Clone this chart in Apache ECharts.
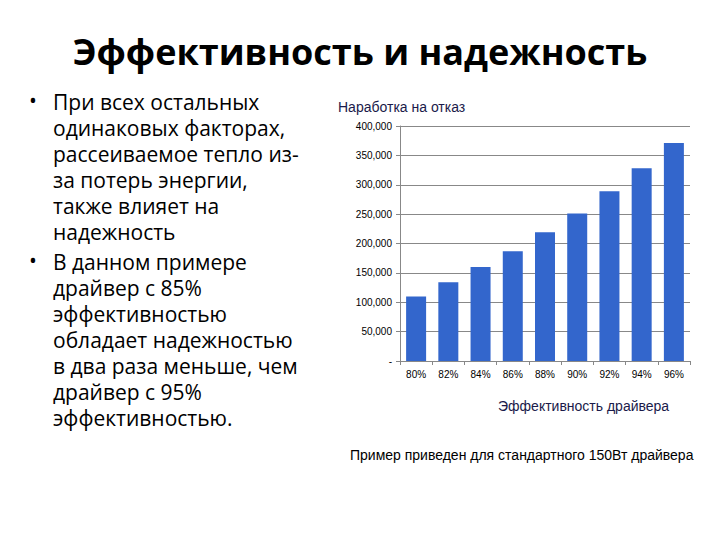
<!DOCTYPE html>
<html>
<head>
    <meta charset="UTF-8">
    <title>Эффективность и надежность</title>
    <script type="text/javascript" src="https://cdn.jsdelivr.net/npm/echarts@6/dist/echarts.min.js"></script>
    <style>
        html, body { margin: 0; padding: 0; background: #fff; }
    </style>
</head>
<body>
    <div id="main" style="width: 720px;height:540px;"></div>
    <script type="text/javascript">
        // данные графика
        var categories = ['80%', '82%', '84%', '86%', '88%', '90%', '92%', '94%', '96%'];
        var mtbf = [110000, 134000, 160000, 187000, 219000, 251000, 289000, 328000, 371000];

        var slideTitle = 'Эффективность и надежность';
        var bullet1 = ['При всех остальных', 'одинаковых факторах,', 'рассеиваемое тепло из-', 'за потерь энергии,', 'также влияет на', 'надежность'];
        var bullet2 = ['В данном примере', 'драйвер с 85%', 'эффективностью', 'обладает надежностью', 'в два раза меньше, чем', 'драйвер с 95%', 'эффективностью.'];

        var myChart = echarts.init(document.getElementById('main'), null, { renderer: 'svg' });

        var textFont = '"Open Sans", "Noto Sans", sans-serif';
        var chartFont = '"Liberation Sans", Arial, sans-serif';

        // строки маркированного списка, каждая отдельным текстом
        function bulletLines(lines, top) {
            var items = [{ type: 'text', left: 29, top: top, style: { text: '•', font: '21px ' + textFont, fill: '#000' } }];
            lines.forEach(function (s, i) {
                items.push({
                    type: 'text', left: 53, top: top + i * 26,
                    style: { text: s, font: '21px ' + textFont, lineHeight: 25, fill: '#000' }
                });
            });
            return items;
        }

        var option = {
            backgroundColor: '#fff',
            animation: false,
            title: [
                {
                    text: slideTitle,
                    left: 'center',
                    top: 28,
                    textStyle: { fontFamily: textFont, fontSize: 36, fontWeight: 'bold', color: '#000' }
                },
                {
                    text: 'Наработка на отказ',
                    left: 333,
                    top: 95,
                    textStyle: { fontFamily: chartFont, fontSize: 14, fontWeight: 'normal', color: '#1a1a4a' }
                },
                {
                    text: 'Эффективность драйвера',
                    left: 493,
                    top: 394,
                    textStyle: { fontFamily: chartFont, fontSize: 14, fontWeight: 'normal', color: '#1a1a4a' }
                },
                {
                    text: 'Пример приведен для стандартного 150Вт драйвера',
                    left: 345,
                    top: 443,
                    textStyle: { fontFamily: chartFont, fontSize: 14, fontWeight: 'normal', color: '#000' }
                }
            ],
            graphic: bulletLines(bullet1, 89).concat(bulletLines(bullet2, 249)),
            grid: {
                left: 400,
                right: 30,
                top: 126,
                bottom: 179
            },
            xAxis: {
                type: 'category',
                data: categories,
                axisLine: { lineStyle: { color: '#888' } },
                axisTick: { show: true, length: 4, lineStyle: { color: '#888' } },
                axisLabel: { fontFamily: chartFont, fontSize: 10, color: '#000', margin: 8 }
            },
            yAxis: {
                type: 'value',
                min: 0,
                max: 400000,
                interval: 50000,
                axisLine: { show: true, lineStyle: { color: '#888' } },
                axisTick: { show: true, length: 4, lineStyle: { color: '#888' } },
                splitLine: { lineStyle: { color: '#888', width: 1 } },
                axisLabel: {
                    fontFamily: chartFont,
                    fontSize: 10,
                    color: '#000',
                    margin: 8,
                    formatter: function (v) {
                        return v === 0 ? '-' : v.toLocaleString('en-US');
                    }
                }
            },
            series: [
                {
                    type: 'bar',
                    data: mtbf,
                    barWidth: 20,
                    itemStyle: { color: '#3366cc' }
                }
            ]
        };
        myChart.setOption(option);
    </script>
</body>
</html>
